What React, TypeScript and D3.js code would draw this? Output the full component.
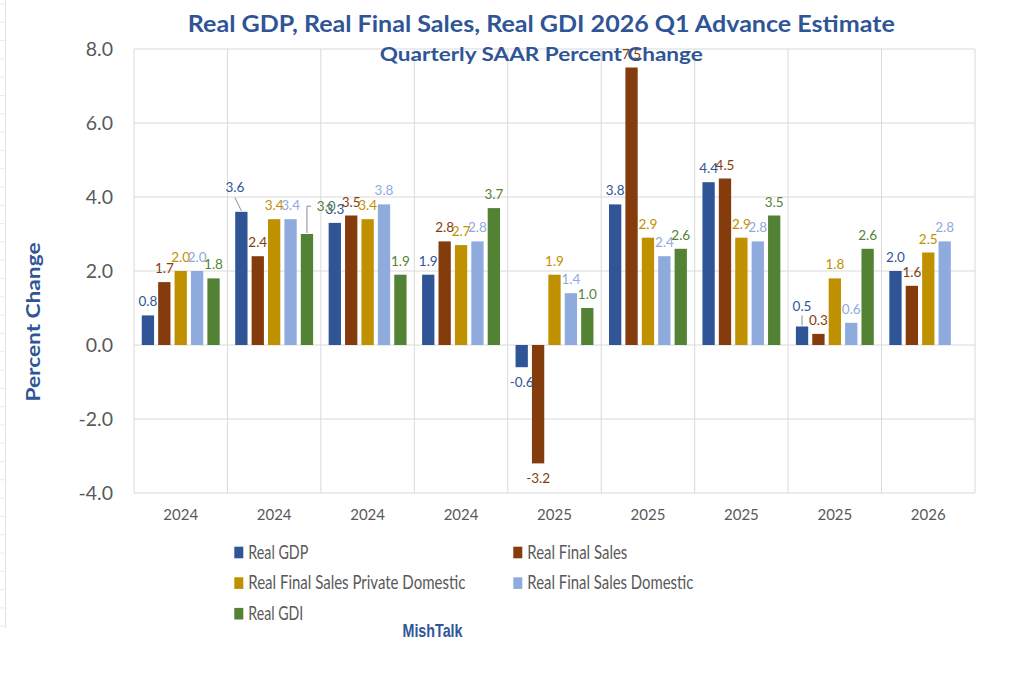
import * as d3 from "d3";
import * as React from "react";

const quarters = ["2024", "2024", "2024", "2024", "2025", "2025", "2025", "2025", "2026"];
const seriesNames = [
  "Real GDP",
  "Real Final Sales",
  "Real Final Sales Private Domestic",
  "Real Final Sales Domestic",
  "Real GDI",
];
const realGdp = [0.8, 3.6, 3.3, 1.9, -0.6, 3.8, 4.4, 0.5, 2.0];
const realFinalSales = [1.7, 2.4, 3.5, 2.8, -3.2, 7.5, 4.5, 0.3, 1.6];
const privateDomestic = [2.0, 3.4, 3.4, 2.7, 1.9, 2.9, 2.9, 1.8, 2.5];
const finalSalesDomestic = [2.0, 3.4, 3.8, 2.8, 1.4, 2.4, 2.8, 0.6, 2.8];
const realGdi = [1.8, 3.0, 1.9, 3.7, 1.0, 2.6, 3.5, 2.6, null];
const yTicks = [-4, -2, 0, 2, 4, 6, 8];

const seriesValues = [realGdp, realFinalSales, privateDomestic, finalSalesDomestic, realGdi];
const colors = ["#2F5597", "#843C0C", "#BF9000", "#8FAADC", "#548235"];

// hand-moved data labels (as in the Excel original), keyed series-quarter
const labelNudge: Record<string, { dx: number; dy: number; leader: string }> = {
  "0-1": { dx: -6.5, dy: -11.3, leader: "diag" },
  "4-1": { dx: 19.2, dy: -14.3, leader: "elbow" },
  "0-7": { dx: 0, dy: -7, leader: "vert" },
};
const legendWidths = [60, 100, 217, 166, 55];

const titleColor = "#2F5597";
const textGray = "#595959";
const gridColor = "#d9d9d9";

// plain hyphen for negatives, like Excel
const fmt = d3.formatLocale({ decimal: ".", thousands: ",", grouping: [3], currency: ["$", ""], minus: "-" }).format(".1f");

export default function App() {
  const width = 1024;
  const height = 674;
  const plotLeft = 134;
  const plotRight = 975;
  const plotTop = 49;
  const plotBottom = 493;

  const svgRef = React.useRef<SVGSVGElement>(null);

  React.useEffect(() => {
    const svgElement = svgRef.current;
    if (svgElement == null) return;
    const svg = d3.select(svgElement);
    svg.selectAll("*").remove();

    const x0 = d3
      .scaleBand<number>()
      .domain(d3.range(quarters.length))
      .range([plotLeft, plotRight]);
    const x1 = d3
      .scaleBand<number>()
      .domain(d3.range(seriesNames.length))
      .range([0, x0.bandwidth()])
      .paddingInner(0.25)
      .paddingOuter(0.474);
    const y = d3.scaleLinear([-4, 8], [plotBottom, plotTop]);

    svg.append("rect").attr("width", width).attr("height", height).attr("fill", "#fff");

    // spreadsheet edge behind the chart
    svg
      .append("line")
      .attr("x1", 5.5)
      .attr("x2", 5.5)
      .attr("y1", 0)
      .attr("y2", 628)
      .attr("stroke", "#e3e3e3");
    svg
      .append("g")
      .selectAll("line")
      .data(d3.range(0, 628, 18.3))
      .join("line")
      .attr("x1", 0)
      .attr("x2", 5)
      .attr("y1", (d) => d + 4)
      .attr("y2", (d) => d + 4)
      .attr("stroke", "#ececec");

    // gridlines
    const grid = svg.append("g").attr("stroke", gridColor).attr("stroke-width", 1);
    grid
      .selectAll("line.h")
      .data(yTicks)
      .join("line")
      .attr("class", "h")
      .attr("x1", plotLeft)
      .attr("x2", plotRight)
      .attr("y1", (d) => y(d))
      .attr("y2", (d) => y(d));
    grid
      .selectAll("line.v")
      .data([...d3.range(quarters.length).map((i) => x0(i) ?? 0), plotRight])
      .join("line")
      .attr("class", "v")
      .attr("x1", (d) => d)
      .attr("x2", (d) => d)
      .attr("y1", plotTop)
      .attr("y2", plotBottom);

    // axes
    svg
      .append("g")
      .attr("transform", `translate(${plotLeft},0)`)
      .call(d3.axisLeft(y).tickValues(yTicks).tickFormat(fmt).tickSize(0).tickPadding(21))
      .call((g) => g.select(".domain").remove())
      .attr("font-family", "Lato")
      .attr("font-size", 19.5)
      .call((g) => g.selectAll("text").attr("fill", textGray));

    svg
      .append("g")
      .attr("transform", `translate(0,${plotBottom})`)
      .call(
        d3
          .axisBottom(x0)
          .tickFormat((i) => quarters[i])
          .tickSize(0)
          .tickPadding(16)
      )
      .call((g) => g.select(".domain").remove())
      .attr("font-family", "Lato")
      .attr("font-size", 15)
      .call((g) => g.selectAll("text").attr("fill", textGray));

    // bars and data labels
    const points = seriesValues.flatMap((vals, s) =>
      vals
        .map((v, i) => ({ s, i, v }))
        .filter((d): d is { s: number; i: number; v: number } => d.v != null)
    );
    const barX = (d: { s: number; i: number }) => (x0(d.i) ?? 0) + (x1(d.s) ?? 0);
    const bw = x1.bandwidth();

    svg
      .append("g")
      .selectAll("rect")
      .data(points)
      .join("rect")
      .attr("x", barX)
      .attr("width", bw)
      .attr("y", (d) => y(Math.max(d.v, 0)))
      .attr("height", (d) => Math.abs(y(d.v) - y(0)))
      .attr("fill", (d) => colors[d.s]);

    const labelPos = (d: { s: number; i: number; v: number }) => {
      const n = labelNudge[`${d.s}-${d.i}`];
      const cx = barX(d) + bw / 2;
      const base = d.v >= 0 ? y(d.v) - 9 : y(d.v) + 20;
      return { cx, top: y(d.v), lx: cx + (n?.dx ?? 0), ly: base + (n?.dy ?? 0), n };
    };

    const leaders = svg
      .append("g")
      .attr("stroke", "#8c8c8c")
      .attr("fill", "none")
      .attr("stroke-width", 1);
    points.forEach((d) => {
      const p = labelPos(d);
      if (!p.n) return;
      const path = d3.path();
      if (p.n.leader === "diag") {
        path.moveTo(p.lx, p.ly + 6);
        path.lineTo(p.cx, p.top - 1);
      } else if (p.n.leader === "elbow") {
        path.moveTo(p.cx, p.top - 1);
        path.lineTo(p.cx, p.ly - 4.5);
        path.lineTo(p.lx - 15, p.ly - 4.5);
      } else {
        path.moveTo(p.cx, p.ly + 5);
        path.lineTo(p.cx, p.top - 1);
      }
      leaders.append("path").attr("d", path.toString());
    });

    svg
      .append("g")
      .attr("font-family", "Lato")
      .attr("font-size", 13.5)
      .attr("text-anchor", "middle")
      .selectAll("text")
      .data(points)
      .join("text")
      .attr("x", (d) => labelPos(d).lx)
      .attr("y", (d) => labelPos(d).ly)
      .attr("fill", (d) => colors[d.s])
      .text((d) => fmt(d.v));

    // titles
    svg
      .append("text")
      .attr("x", 541.3)
      .attr("y", 32)
      .attr("text-anchor", "middle")
      .attr("font-family", "Lato")
      .attr("font-weight", "bold")
      .attr("font-size", 23)
      .attr("fill", titleColor)
      .attr("textLength", 707)
      .attr("lengthAdjust", "spacingAndGlyphs")
      .text("Real GDP, Real Final Sales, Real GDI 2026 Q1 Advance Estimate");

    svg
      .append("text")
      .attr("x", 541.3)
      .attr("y", 61)
      .attr("text-anchor", "middle")
      .attr("font-family", "Lato")
      .attr("font-weight", "bold")
      .attr("font-size", 19.5)
      .attr("fill", titleColor)
      .attr("textLength", 323)
      .attr("lengthAdjust", "spacingAndGlyphs")
      .text("Quarterly SAAR Percent Change");

    svg
      .append("text")
      .attr("transform", "translate(40,322) rotate(-90)")
      .attr("text-anchor", "middle")
      .attr("font-family", "Lato")
      .attr("font-weight", "bold")
      .attr("font-size", 19)
      .attr("fill", titleColor)
      .attr("textLength", 159)
      .attr("lengthAdjust", "spacingAndGlyphs")
      .text("Percent Change");

    // legend
    const legend = svg
      .append("g")
      .selectAll("g")
      .data(seriesNames)
      .join("g")
      .attr(
        "transform",
        (_, k) => `translate(${234.3 + (k % 2) * 279},${546.7 + Math.floor(k / 2) * 30.6})`
      );
    legend
      .append("rect")
      .attr("width", 9)
      .attr("height", 11.6)
      .attr("fill", (_, k) => colors[k]);
    legend
      .append("text")
      .attr("x", 14)
      .attr("y", 11.8)
      .attr("font-family", "Lato")
      .attr("font-size", 20)
      .attr("fill", textGray)
      .attr("textLength", (_, k) => legendWidths[k])
      .attr("lengthAdjust", "spacingAndGlyphs")
      .text((d) => d);

    svg
      .append("text")
      .attr("x", 432.5)
      .attr("y", 636.7)
      .attr("text-anchor", "middle")
      .attr("font-family", "Liberation Sans")
      .attr("font-weight", "bold")
      .attr("font-size", 18.5)
      .attr("fill", titleColor)
      .attr("textLength", 60)
      .attr("lengthAdjust", "spacingAndGlyphs")
      .text("MishTalk");
  }, []);

  return (
    <svg
      ref={svgRef}
      width={width}
      height={height}
      viewBox={`0 0 ${width} ${height}`}
      style={{ position: "absolute", left: 0, top: 0 }}
    ></svg>
  );
}
